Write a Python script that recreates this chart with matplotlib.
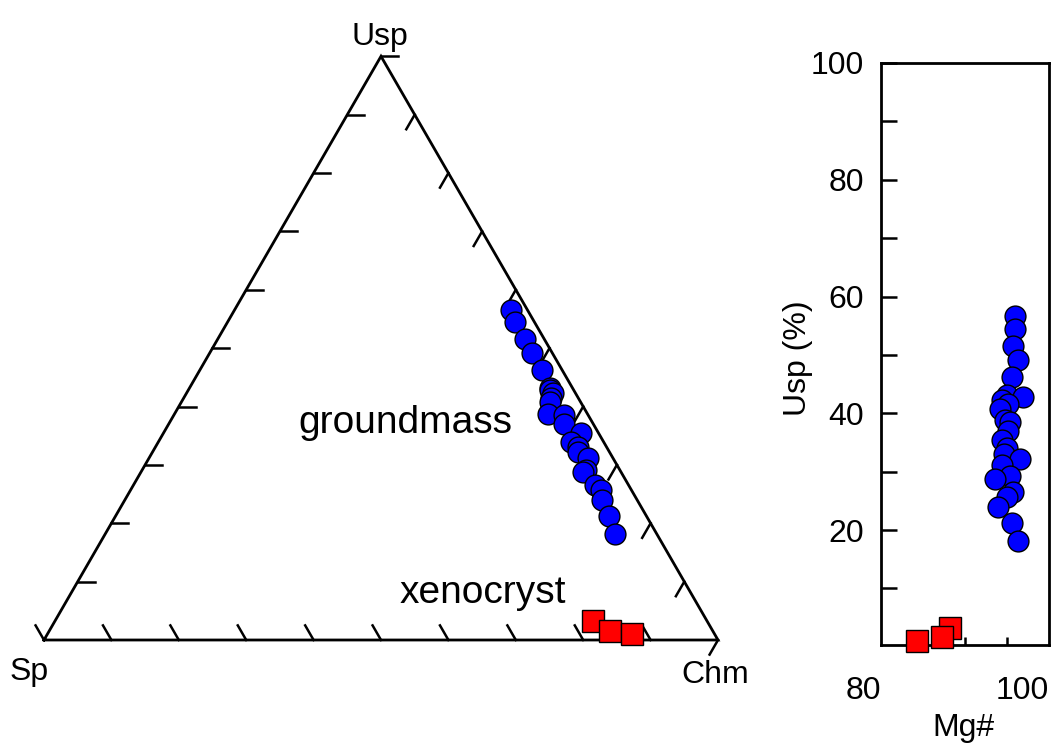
import numpy as np
import matplotlib
matplotlib.use('Agg')
import matplotlib.pyplot as plt

plt.rcParams['font.family'] = ['Liberation Sans', 'DejaVu Sans']

# spinel compositions (mol %), groundmass grains
gm_usp = [56.6, 54.4, 51.5, 49.2, 46.2, 43.2, 42.8, 42.3, 41.5, 40.8, 38.8, 38.5, 37.0,
          35.4, 34.0, 33.0, 32.2, 31.2, 29.2, 28.8, 26.5, 25.7, 24.0, 21.2, 18.2]
gm_sp = [2.4, 2.9, 2.9, 3.0, 3.0, 3.3, 3.5, 3.3, 4.0, 4.5, 5.8, 3.6, 4.3,
         2.6, 4.8, 4.2, 4.7, 3.7, 5.0, 5.6, 5.0, 4.5, 5.2, 5.6, 6.2]
gm_mg = [96.0, 96.0, 95.7, 96.3, 95.6, 95.0, 96.9, 94.4, 95.1, 94.2, 94.8, 95.3, 95.1,
         94.4, 95.0, 94.7, 96.5, 94.4, 95.4, 93.6, 95.7, 95.0, 93.9, 95.6, 96.3]

# xenocrysts
xc_usp = [3.2, 1.6, 1.0]
xc_sp = [17.0, 15.2, 12.3]
xc_mg = [88.2, 87.3, 84.3]

BLUE = '#0000ff'
RED = '#ff0000'
H = np.sqrt(3) / 2
LW = 2.0


def tern_xy(usp, sp):
    usp = np.asarray(usp) / 100.0
    sp = np.asarray(sp) / 100.0
    chm = 1.0 - usp - sp
    return chm + usp / 2.0, usp * H


fig = plt.figure(figsize=(10.62, 7.51), dpi=100)

# ---- ternary Sp - Chm - Usp ----
ax = fig.add_axes([0, 0, 800 / 1062, 1])
ax.set_xlim(-44 / 674, 756 / 674)
ax.set_ylim(-111 / 674, 640 / 674)
ax.axis('off')

ax.plot([0, 1, 0.5, 0], [0, 0, H, 0], color='black', lw=LW, solid_joinstyle='miter', zorder=2)

L = 0.025
for k in range(10):
    f = k / 10.0
    # bottom edge, ticks parallel to Chm-Usp edge
    p = np.array([f, 0.0])
    q = p + L * np.array([-0.5, H])
    ax.plot([p[0], q[0]], [p[1], q[1]], color='black', lw=LW * 0.9, zorder=2)
    # right edge, ticks parallel to Usp-Sp edge
    p = np.array([1 - 0.5 * f, H * f])
    q = p + L * np.array([-0.5, -H])
    ax.plot([p[0], q[0]], [p[1], q[1]], color='black', lw=LW * 0.9, zorder=2)
    # left edge, horizontal ticks
    p = np.array([0.5 - 0.5 * f, H - H * f])
    q = p + L * np.array([1.0, 0.0])
    ax.plot([p[0], q[0]], [p[1], q[1]], color='black', lw=LW * 0.9, zorder=2)

gx, gy = tern_xy(gm_usp, gm_sp)
ax.plot(gx, gy, 'o', ms=15, mfc=BLUE, mec='black', mew=1.0, zorder=3)
xx, xy = tern_xy(xc_usp, xc_sp)
for i in range(len(xx)):
    ax.plot(xx[i], xy[i], 's', ms=15.5, mfc=RED, mec='black', mew=1.0, zorder=3 + i)

ax.text(0.4985, 0.8828, 'Usp', ha='center', va='baseline', fontsize=23)
ax.text(-0.0223, -0.0593, 'Sp', ha='center', va='baseline', fontsize=23)
ax.text(0.9955, -0.0638, 'Chm', ha='center', va='baseline', fontsize=23)
ax.text(0.3769, 0.3076, 'groundmass', ha='left', va='baseline', fontsize=28)
ax.text(0.5282, 0.0549, 'xenocryst', ha='left', va='baseline', fontsize=28)

# ---- Usp vs Mg# ----
ax2 = fig.add_axes([881 / 1062, 106 / 751, 168 / 1062, 582 / 751])
ax2.plot(gm_mg, gm_usp, 'o', ms=15, mfc=BLUE, mec='black', mew=1.0, zorder=3, clip_on=False)
for i in range(len(xc_mg)):
    ax2.plot(xc_mg[i], xc_usp[i], 's', ms=15.5, mfc=RED, mec='black', mew=1.0,
             zorder=3 + i, clip_on=False)
ax2.set_xlim(80, 100)
ax2.set_ylim(0.3, 100)
for s in ax2.spines.values():
    s.set_linewidth(LW)

ax2.set_yticks([20, 40, 60, 80, 100])
ax2.set_yticks([10, 30, 50, 70, 90], minor=True)
ax2.tick_params(axis='y', which='both', direction='in', length=11.5, width=LW * 0.9,
                labelsize=23, pad=12, right=False)
ax2.set_xticks([80, 100])
ax2.set_xticklabels(['80', '100'], ha='right')
ax2.set_xticks([85, 90, 95], minor=True)
ax2.tick_params(axis='x', which='major', direction='in', length=0, labelsize=23, pad=22)
ax2.tick_params(axis='x', which='minor', direction='in', length=6, width=LW * 0.9, top=False)

ax2.set_xlabel('Mg#', fontsize=23)
ax2.xaxis.set_label_coords(0.488, -0.117)
ax2.set_ylabel('Usp (%)', fontsize=23)
ax2.yaxis.set_label_coords(-0.405, 0.493)

fig.savefig('out.png', dpi=100)
